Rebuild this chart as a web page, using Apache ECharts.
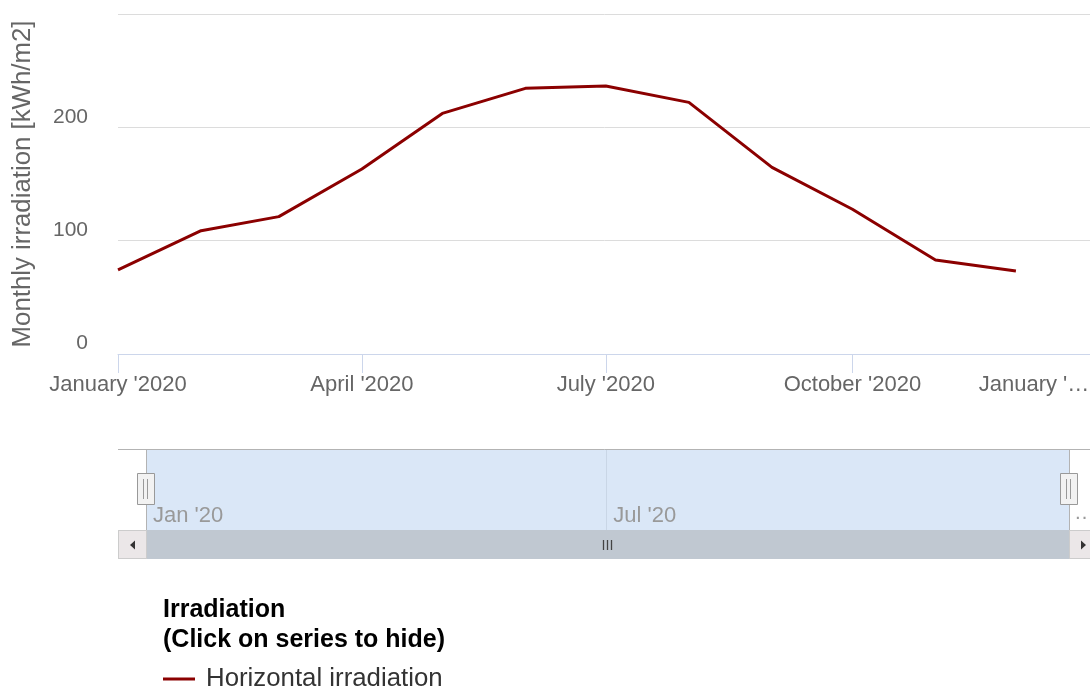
<!DOCTYPE html>
<html><head><meta charset="utf-8">
<script src="https://cdn.jsdelivr.net/npm/echarts@6/dist/echarts.min.js"></script>
<style>html,body{margin:0;padding:0;background:#fff;overflow:hidden}#c{width:1090px;height:687px}</style>
</head><body><div id="c"></div>
<script>
// ---- data ----
const months = ['2020-01-01','2020-02-01','2020-03-01','2020-04-01','2020-05-01','2020-06-01',
                '2020-07-01','2020-08-01','2020-09-01','2020-10-01','2020-11-01','2020-12-01'];
const irradiation = [74.2, 108.8, 121.2, 163.2, 212.3, 234.4, 236.4, 222.0, 164.7, 127.7, 83.0, 73.3];
const seriesName = 'Horizontal irradiation';
const yTicks = [0, 100, 200, 300];
const mainTickDates = ['2020-01-01','2020-04-01','2020-07-01','2020-10-01','2021-01-01'];
const mainTickLabels = ["January '2020","April '2020","July '2020","October '2020","January '\u2026"];
const navTickDates = ['2020-01-01','2020-07-01'];
const navTickLabels = ["Jan '20","Jul '20"];
const xRange = ['2020-01-01','2021-01-01'];
const navRange = ['2020-01-01','2020-12-31'];
const yTitle = 'Monthly irradiation [kWh/m2]';
const legendTitle = 'Irradiation\n(Click on series to hide)';

// ---- helpers ----
const ts = s => { const [y,m,d] = s.split('-').map(Number); return Date.UTC(y, m-1, d); };
const mainTickTs = mainTickDates.map(ts);
const navTickTs = navTickDates.map(ts);
const FONT = '"Liberation Sans", Arial, sans-serif';
const seriesData = months.map((m, i) => [ts(m), irradiation[i]]);

const chart = echarts.init(document.getElementById('c'), null, {renderer: 'canvas'});
const option = {
  animation: false,
  backgroundColor: '#ffffff',
  textStyle: {fontFamily: FONT},
  title: {
    text: legendTitle, left: 158, top: 590,
    textStyle: {fontFamily: FONT, fontSize: 25, fontWeight: 'bold', color: '#000', lineHeight: 30}
  },
  legend: {
    data: [seriesName], left: 158, top: 661, icon: 'rect', itemWidth: 32, itemHeight: 3,
    textStyle: {fontFamily: FONT, fontSize: 25.8, color: '#333', padding: [0,0,0,6]}
  },
  grid: [
    {left: 118, top: 14, width: 981, height: 340, outerBoundsMode: 'none', containLabel: false},
    {left: 146, top: 449, width: 923, height: 81, show: true, backgroundColor: '#dae7f7', borderWidth: 0,
     outerBoundsMode: 'none', containLabel: false}
  ],
  xAxis: [{
    type: 'value', gridIndex: 0, min: ts(xRange[0]), max: ts(xRange[1]),
    axisLine: {show: true, lineStyle: {color: '#ccd6eb', width: 1}},
    axisTick: {show: true, customValues: mainTickTs, length: 19, lineStyle: {color: '#ccd6eb'}},
    splitLine: {show: false},
    axisLabel: {
      customValues: mainTickTs, margin: 20, color: '#666', fontSize: 22, fontFamily: FONT,
      formatter: v => {
        const i = mainTickTs.indexOf(v);
        if (i < 0) return '';
        return i === mainTickTs.length - 1 ? '{r|' + mainTickLabels[i] + '}' : mainTickLabels[i];
      },
      rich: {r: {color: '#666', fontSize: 22, fontFamily: FONT, padding: [0, 130, 0, 0]}}
    }
  }, {
    type: 'value', gridIndex: 1, min: ts(navRange[0]), max: ts(navRange[1]),
    axisLine: {show: false},
    axisTick: {show: false, customValues: navTickTs},
    splitLine: {show: true, lineStyle: {color: '#c9d6e6', width: 1}},
    axisLabel: {
      inside: true, customValues: navTickTs, align: 'left', margin: 3,
      color: '#999', fontSize: 22, fontFamily: FONT, padding: [0, 0, 0, 7],
      formatter: v => { const i = navTickTs.indexOf(v); return i < 0 ? '' : navTickLabels[i]; }
    }
  }],
  yAxis: [{
    type: 'value', gridIndex: 0, min: yTicks[0], max: yTicks[yTicks.length - 1], interval: 100,
    name: yTitle, nameLocation: 'middle', nameGap: 82,
    nameTextStyle: {color: '#666', fontSize: 25.8, fontFamily: FONT},
    axisLine: {show: false}, axisTick: {show: false},
    splitLine: {lineStyle: {color: '#dcdcdc', width: 1}},
    axisLabel: {showMaxLabel: false, color: '#666', fontSize: 21, fontFamily: FONT, margin: 30,
      verticalAlign: 'bottom', padding: [0, 0, 0, 0]}
  }, {
    type: 'value', gridIndex: 1, min: 0, max: 1, show: false
  }],
  series: [{
    name: seriesName, type: 'line', xAxisIndex: 0, yAxisIndex: 0,
    data: seriesData, showSymbol: false, symbol: 'none',
    color: '#8b0000', lineStyle: {color: '#8b0000', width: 3}
  }],
  graphic: [
    // navigator outline
    {type: 'line', z: 10, shape: {x1: 118, y1: 449.5, x2: 1099, y2: 449.5}, style: {stroke: '#b3b3b3', lineWidth: 1}},
    {type: 'line', z: 10, shape: {x1: 146.5, y1: 449, x2: 146.5, y2: 530}, style: {stroke: '#b3b3b3', lineWidth: 1}},
    {type: 'line', z: 10, shape: {x1: 1069.5, y1: 449, x2: 1069.5, y2: 530}, style: {stroke: '#b3b3b3', lineWidth: 1}},
    // scrollbar
    {type: 'rect', z: 10, shape: {x: 118.5, y: 530.5, width: 980, height: 28}, style: {fill: '#f2f2f2', stroke: '#b3b3b3', lineWidth: 1}},
    {type: 'rect', z: 11, shape: {x: 146.5, y: 530.5, width: 923, height: 28}, style: {fill: '#c0c8d1', stroke: '#c0c8d1', lineWidth: 1}},
    {type: 'rect', z: 12, shape: {x: 118.5, y: 530.5, width: 28, height: 28}, style: {fill: '#ebe7e8', stroke: '#cccccc', lineWidth: 1}},
    {type: 'polygon', z: 13, shape: {points: [[135,540.5],[135,549.5],[130,545]]}, style: {fill: '#333'}},
    {type: 'rect', z: 12, shape: {x: 1069.5, y: 530.5, width: 28, height: 28}, style: {fill: '#ebe7e8', stroke: '#cccccc', lineWidth: 1}},
    {type: 'polygon', z: 13, shape: {points: [[1081,540.5],[1081,549.5],[1086,545]]}, style: {fill: '#333'}},
    {type: 'line', z: 13, shape: {x1: 603.5, y1: 540, x2: 603.5, y2: 550}, style: {stroke: '#444', lineWidth: 1.3}},
    {type: 'line', z: 13, shape: {x1: 607.5, y1: 540, x2: 607.5, y2: 550}, style: {stroke: '#444', lineWidth: 1.3}},
    {type: 'line', z: 13, shape: {x1: 611.5, y1: 540, x2: 611.5, y2: 550}, style: {stroke: '#444', lineWidth: 1.3}},
    // handles
    {type: 'rect', z: 14, shape: {x: 137.5, y: 473.5, width: 17, height: 31}, style: {fill: '#f2f2f2', stroke: '#999', lineWidth: 1}},
    {type: 'line', z: 15, shape: {x1: 143.5, y1: 479, x2: 143.5, y2: 499}, style: {stroke: '#999', lineWidth: 1}},
    {type: 'line', z: 15, shape: {x1: 147.5, y1: 479, x2: 147.5, y2: 499}, style: {stroke: '#999', lineWidth: 1}},
    {type: 'rect', z: 14, shape: {x: 1060.5, y: 473.5, width: 17, height: 31}, style: {fill: '#f2f2f2', stroke: '#999', lineWidth: 1}},
    {type: 'line', z: 15, shape: {x1: 1066.5, y1: 479, x2: 1066.5, y2: 499}, style: {stroke: '#999', lineWidth: 1}},
    {type: 'line', z: 15, shape: {x1: 1070.5, y1: 479, x2: 1070.5, y2: 499}, style: {stroke: '#999', lineWidth: 1}},
    {type: 'text', z: 10, left: 1074, top: 503, style: {text: '\u2026', fill: '#999', font: '21px ' + FONT}}
  ]
};
chart.setOption(option);
</script>
</body></html>
